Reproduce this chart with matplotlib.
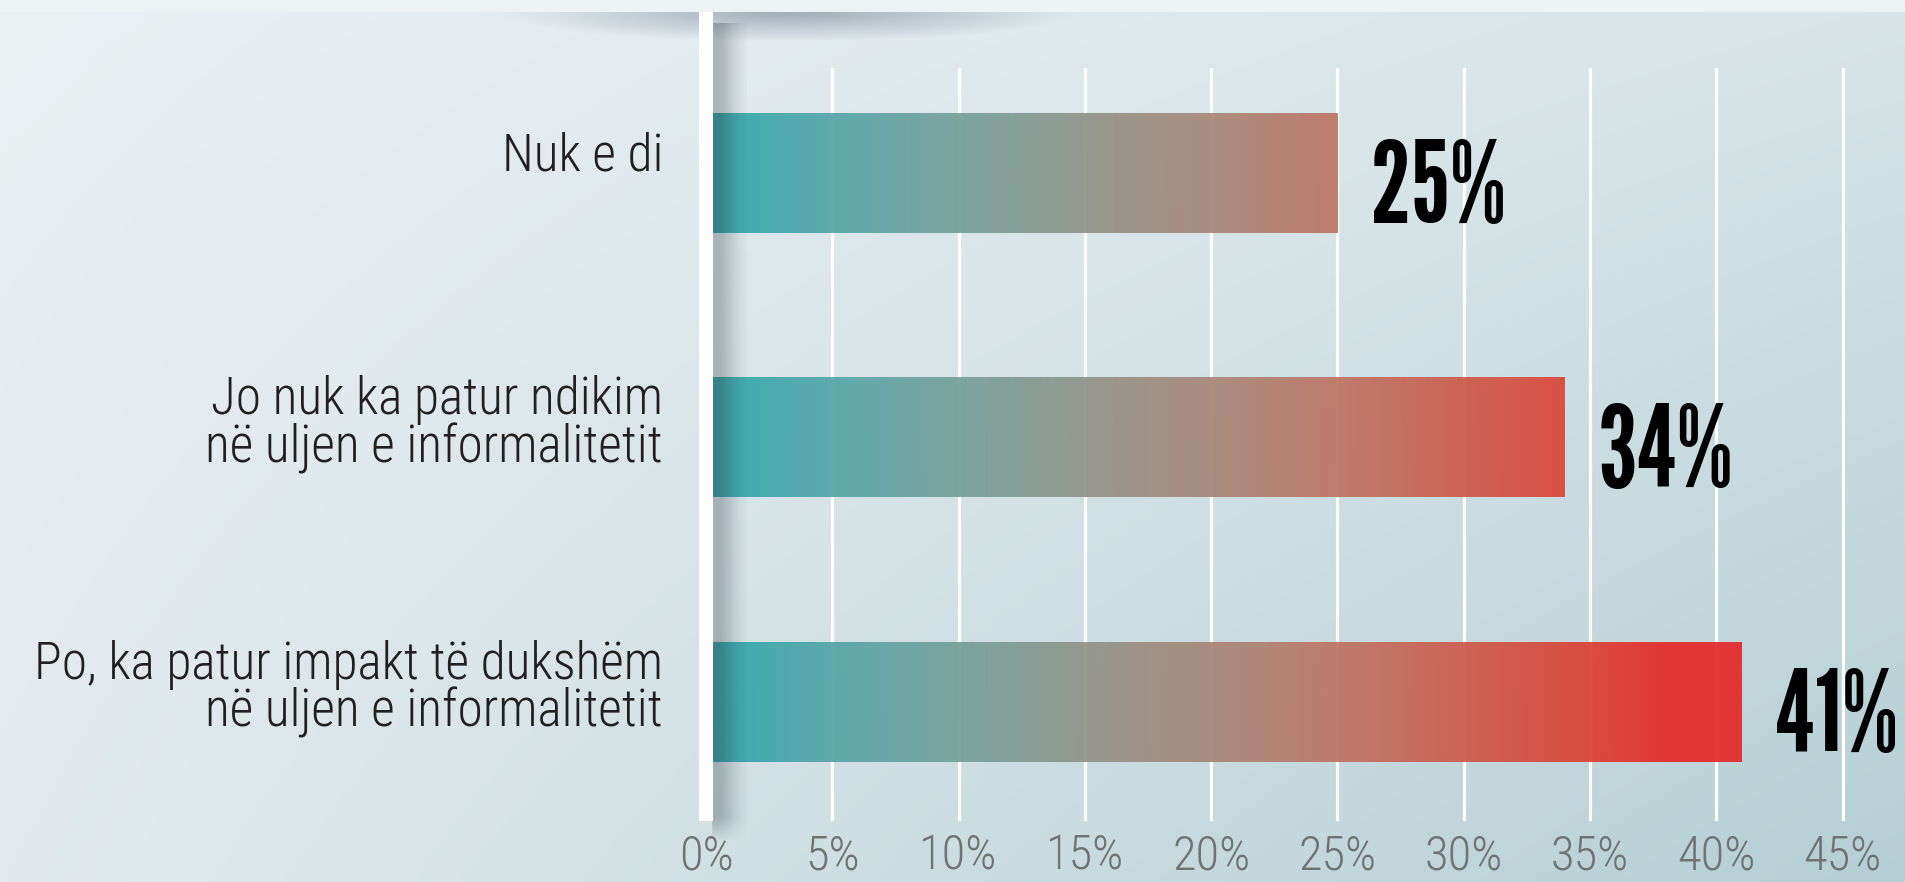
import os
import numpy as np
import matplotlib
matplotlib.use("Agg")
import matplotlib.pyplot as plt
from matplotlib import font_manager as fm
from matplotlib.textpath import TextPath
from matplotlib.colors import LinearSegmentedColormap, Normalize, to_rgb

# ---- data -----------------------------------------------------------------
categories = [
    "Nuk e di",
    "Jo nuk ka patur ndikim\nnë uljen e informalitetit",
    "Po, ka patur impakt të dukshëm\nnë uljen e informalitetit",
]
values = [25, 34, 41]
tick_values = [0, 5, 10, 15, 20, 25, 30, 35, 40, 45]
tick_labels = [f"{t}%" for t in tick_values]

# ---- fonts ------------------------------------------------------------------
_files = {os.path.basename(e.fname).lower(): e.fname for e in fm.fontManager.ttflist}


def font_file(*prefixes):
    for p in prefixes:
        for base in sorted(_files):
            if base.startswith(p):
                return _files[base]
    return None


def sized(path, glyphs, ink_px, fallback):
    """Font properties whose ink height for `glyphs` is `ink_px` pixels at 100 dpi."""
    fp = fm.FontProperties(fname=path) if path else fm.FontProperties(family=fallback)
    h = TextPath((0, 0), glyphs, size=100, prop=fp).get_extents().height
    fp.set_size(100 * ink_px * 0.72 / h)
    return fp


pct_file = font_file("leaguegothic", "sairaextracondensed-black",
                     "sairaextracondensed-extrabold", "anton-regular",
                     "bebasneue-regular", "dejavusanscondensed-bold.")
label_file = font_file("robotocondensed-light", "robotocondensed[wght]",
                       "robotocondensed-regular", "archivonarrow[wght]",
                       "asapcondensed-light", "dejavusanscondensed.")

W, H = 1905, 882
fig = plt.figure(figsize=(W / 100, H / 100), dpi=100)

# ---- background ------------------------------------------------------------
bg = fig.add_axes([0, 0, 1, 1], zorder=0)
bg.set_xlim(0, W)
bg.set_ylim(H, 0)
bg.axis("off")

gy, gx = np.mgrid[0:1:200j, 0:1:400j]
tl, tr = np.array(to_rgb("#ebf0f3")), np.array(to_rgb("#d8e4e8"))
bl, br = np.array(to_rgb("#e2eaed")), np.array(to_rgb("#b4cfd4"))
img = ((1 - gx) * (1 - gy))[..., None] * tl + (gx * (1 - gy))[..., None] * tr \
    + ((1 - gx) * gy)[..., None] * bl + (gx * gy)[..., None] * br
bg.imshow(img, extent=[0, W, H, 0], aspect="auto", interpolation="bilinear", zorder=0)

# light strip along the top edge
bg.add_patch(plt.Rectangle((0, 0), W, 12, color="#edf2f4", zorder=1, lw=0))

# soft shadow cast below the strip
sy, sx = np.mgrid[12:70:60j, 400:1200:400j]
r = np.sqrt(((sx - 790) / 290) ** 2 + ((sy - 12) / 30) ** 2)
sh = np.zeros(sx.shape + (4,))
sh[..., :3] = to_rgb("#5f6e84")
sh[..., 3] = 0.5 * np.clip(1 - r, 0, 1) ** 1.0
bg.imshow(sh, extent=[400, 1200, 70, 12], aspect="auto", interpolation="bilinear", zorder=2)

# ---- chart axes ------------------------------------------------------------
ax = fig.add_axes([706 / W, 61 / H, (W - 706) / W, 753 / H], zorder=1)
ax.patch.set_alpha(0)
for s in ax.spines.values():
    s.set_visible(False)

ypos = np.arange(len(categories))
bar_h = 0.4537
bars = ax.barh(ypos, values, height=bar_h, color="none", lw=0, zorder=2)

stops = [(0, "#2f9da2"), (1, "#35a8ac"), (5, "#58a5a8"), (10, "#76a09a"),
         (15, "#91948a"), (20, "#a8877a"), (25, "#bd7564"), (30, "#cd5c4c"),
         (35, "#dc4336"), (38, "#e42c2c"), (41, "#e52a2b")]
vmax = max(values)
cmap = LinearSegmentedColormap.from_list("bar_grad", [(p / vmax, c) for p, c in stops])
grad = np.linspace(0, vmax, 600)[None, :]
for b in bars:
    im = ax.imshow(grad, cmap=cmap, norm=Normalize(0, vmax), aspect="auto",
                   extent=[0, vmax, 3, -1], interpolation="bilinear", zorder=2, alpha=0.94)
    im.set_clip_path(b)

# shadow to the right of the zero line
px = np.linspace(0, 1, 60)
prof_x = np.exp(-((px * 40 - 10) / 19) ** 2) * (px * 40 > 6)
py = np.linspace(0, 1, 200)
prof_y = np.clip((1.05 - py) / 0.04, 0, 1) * np.clip(py / 0.03, 0, 1)
shadow = np.zeros((200, 60, 4))
shadow[..., :3] = to_rgb("#2a363f")
shadow[..., 3] = 0.3 * prof_y[::-1, None] * prof_x[None, :]
ax.imshow(shadow, extent=[0, 1.6, -0.03, 1.06], transform=ax.get_xaxis_transform(),
          aspect="auto", interpolation="bilinear", zorder=3, clip_on=False)

# white zero line running up to the top strip
ax.axvline(0, ymin=0, ymax=1.0744, color="white", lw=10.1, solid_capstyle="butt",
           clip_on=False, zorder=4)

ax.set_xlim(0, 47.47)
ax.set_ylim(2.45, -0.397)
ax.set_yticks([])
ax.set_xticks(tick_values, tick_labels)
ax.xaxis.grid(True, color="white", lw=2.3)
ax.set_axisbelow(True)
ax.tick_params(axis="x", length=0, pad=8.5, labelcolor="#727272")
tick_fp = sized(label_file, "0", 35.5, "DejaVu Sans")
for t in ax.get_xticklabels():
    t.set_fontproperties(tick_fp)

label_fp = sized(label_file, "N", 36.5, "DejaVu Sans")
for i, cat in enumerate(categories):
    n = cat.count("\n") + 1
    ax.annotate(cat, xy=(0, i), xycoords=ax.get_yaxis_transform(),
                xytext=(-43 * 0.72, (3 - 28 * (n - 1)) * 0.72), textcoords="offset points",
                ha="right", va="baseline", multialignment="right", linespacing=0.94,
                fontproperties=label_fp, color="#231f20", annotation_clip=False)

pct_fp = sized(pct_file, "2", 84, "DejaVu Sans")
for i, v in enumerate(values):
    ax.annotate(f"{v}%", xy=(v, i), xytext=(33 * 0.72, -49 * 0.72),
                textcoords="offset points", ha="left", va="baseline",
                fontproperties=pct_fp, color="black", annotation_clip=False)

fig.savefig("out.png", dpi=100)
